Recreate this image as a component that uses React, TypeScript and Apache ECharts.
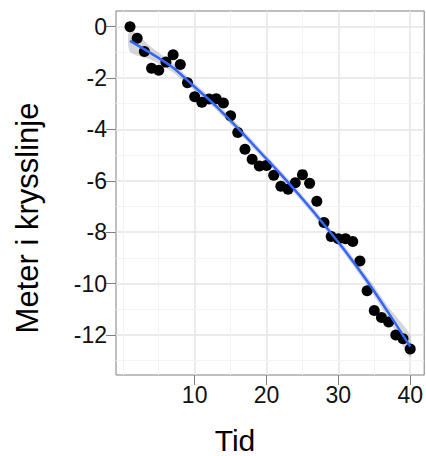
import React, { useEffect, useRef } from "react";
import * as echarts from "echarts";

// Observations
const tid = [1,2,3,4,5,6,7,8,9,10,11,12,13,14,15,16,17,18,19,20,21,22,23,24,25,26,27,28,29,30,31,32,33,34,35,36,37,38,39,40];
const meter = [0,-0.45,-0.97,-1.62,-1.7,-1.38,-1.09,-1.47,-2.18,-2.73,-2.94,-2.82,-2.81,-2.97,-3.47,-4.12,-4.77,-5.16,-5.42,-5.4,-5.78,-6.21,-6.33,-6.08,-5.76,-6.1,-6.8,-7.62,-8.17,-8.26,-8.26,-8.36,-9.12,-10.28,-11.05,-11.32,-11.5,-12.0,-12.15,-12.55];

// Smoothed fit
const fitX = [1,4,7,10,13,16,19,22,25,28,31,34,37,40];
const fitY = [-0.55,-1.05,-1.6,-2.35,-3.1,-3.95,-4.85,-5.75,-6.7,-7.7,-8.75,-9.9,-11.15,-12.45];
const fitLow = [-0.98,-1.3,-1.78,-2.5,-3.24,-4.09,-4.99,-5.89,-6.84,-7.84,-8.9,-10.08,-11.38,-12.88];
const fitHigh = [-0.12,-0.8,-1.42,-2.2,-2.96,-3.81,-4.71,-5.61,-6.56,-7.56,-8.6,-9.72,-10.92,-12.02];

// Axes
const xTicks = [10, 20, 30, 40];
const xMinor = [0, 5, 15, 25, 35];
const yTicks = [-12, -10, -8, -6, -4, -2, 0];
const yMinor = [-13, -11, -9, -7, -5, -3, -1];
const xRange = [-0.95, 41.95];
const yRange = [-13.56, 0.61];

const FONT = "Liberation Sans, Arial, Helvetica, sans-serif";

export default function App() {
  const ref = useRef<HTMLDivElement>(null);
  useEffect(() => {
    if (!ref.current) return;
    const chart = echarts.init(ref.current, null, { renderer: "svg" });
    chart.setOption({
      animation: false,
      backgroundColor: "#ffffff",
      grid: {
        left: 116,
        top: 11,
        right: 1,
        bottom: 81,
        show: true,
        backgroundColor: "#ffffff",
        borderColor: "#7f7f7f",
        borderWidth: 1,
      },
      xAxis: {
        type: "value",
        min: xRange[0],
        max: xRange[1],
        position: "bottom",
        axisLine: { show: false, onZero: false },
        axisTick: { show: true, length: 10, customValues: xTicks, lineStyle: { color: "#7f7f7f", width: 1 } },
        axisLabel: { customValues: xTicks, color: "#111", fontSize: 23, fontFamily: FONT, margin: 8 },
        splitLine: { show: true, lineStyle: { color: "#e5e5e5", width: 1.5 } },
        minorSplitLine: { show: false },
      },
      yAxis: {
        type: "value",
        min: yRange[0],
        max: yRange[1],
        position: "left",
        axisLine: { show: false, onZero: false },
        axisTick: { show: true, length: 10, customValues: yTicks, lineStyle: { color: "#7f7f7f", width: 1 } },
        axisLabel: { customValues: yTicks, color: "#111", fontSize: 23, fontFamily: FONT, margin: 9 },
        splitLine: { show: true, lineStyle: { color: "#e5e5e5", width: 1.5 } },
        minorSplitLine: { show: false },
      },
      series: [
        {
          type: "line",
          z: 1,
          silent: true,
          symbol: "none",
          lineStyle: { opacity: 0 },
          data: [[xRange[0], yRange[0]]],
          markLine: {
            z: 1,
            silent: true,
            symbol: "none",
            label: { show: false },
            lineStyle: { color: "#f3f3f3", width: 1, type: "solid" },
            emphasis: { disabled: true },
            data: [
              ...xMinor.map((v) => ({ xAxis: v })),
              ...yMinor.map((v) => ({ yAxis: v })),
            ],
          },
        },
        {
          type: "custom",
          z: 2,
          silent: true,
          data: [[fitX[0], fitY[0]]],
          renderItem: (params: any, api: any) => {
            const pts: number[][] = [];
            for (let i = 0; i < fitX.length; i++) pts.push(api.coord([fitX[i], fitLow[i]]));
            for (let i = fitX.length - 1; i >= 0; i--) pts.push(api.coord([fitX[i], fitHigh[i]]));
            return {
              type: "polygon",
              shape: { points: pts, smooth: 0.25 },
              style: { fill: "rgba(153,153,153,0.4)", stroke: "none" },
            };
          },
        },
        {
          type: "scatter",
          z: 3,
          symbol: "circle",
          symbolSize: 11,
          itemStyle: { color: "#000000", opacity: 1 },
          data: tid.map((t, i) => [t, meter[i]]),
        },
        {
          type: "line",
          z: 4,
          smooth: 0.3,
          showSymbol: false,
          symbol: "none",
          lineStyle: { color: "#3366ff", width: 2.5 },
          data: fitX.map((t, i) => [t, fitY[i]]),
        },
      ],
      graphic: [
        {
          type: "text",
          x: 235,
          y: 440,
          style: {
            text: "Tid",
            fontSize: 30,
            fontFamily: FONT,
            fill: "#000",
            align: "center",
            verticalAlign: "middle",
          },
        },
        {
          type: "text",
          x: 27,
          y: 218,
          rotation: Math.PI / 2,
          style: {
            text: "Meter i krysslinje",
            fontSize: 31,
            fontFamily: FONT,
            fill: "#000",
            align: "center",
            verticalAlign: "middle",
          },
        },
      ],
    });
    return () => chart.dispose();
  }, []);
  return <div ref={ref} style={{ width: 426, height: 456, position: "absolute", left: 0, top: 0 }} />;
}
